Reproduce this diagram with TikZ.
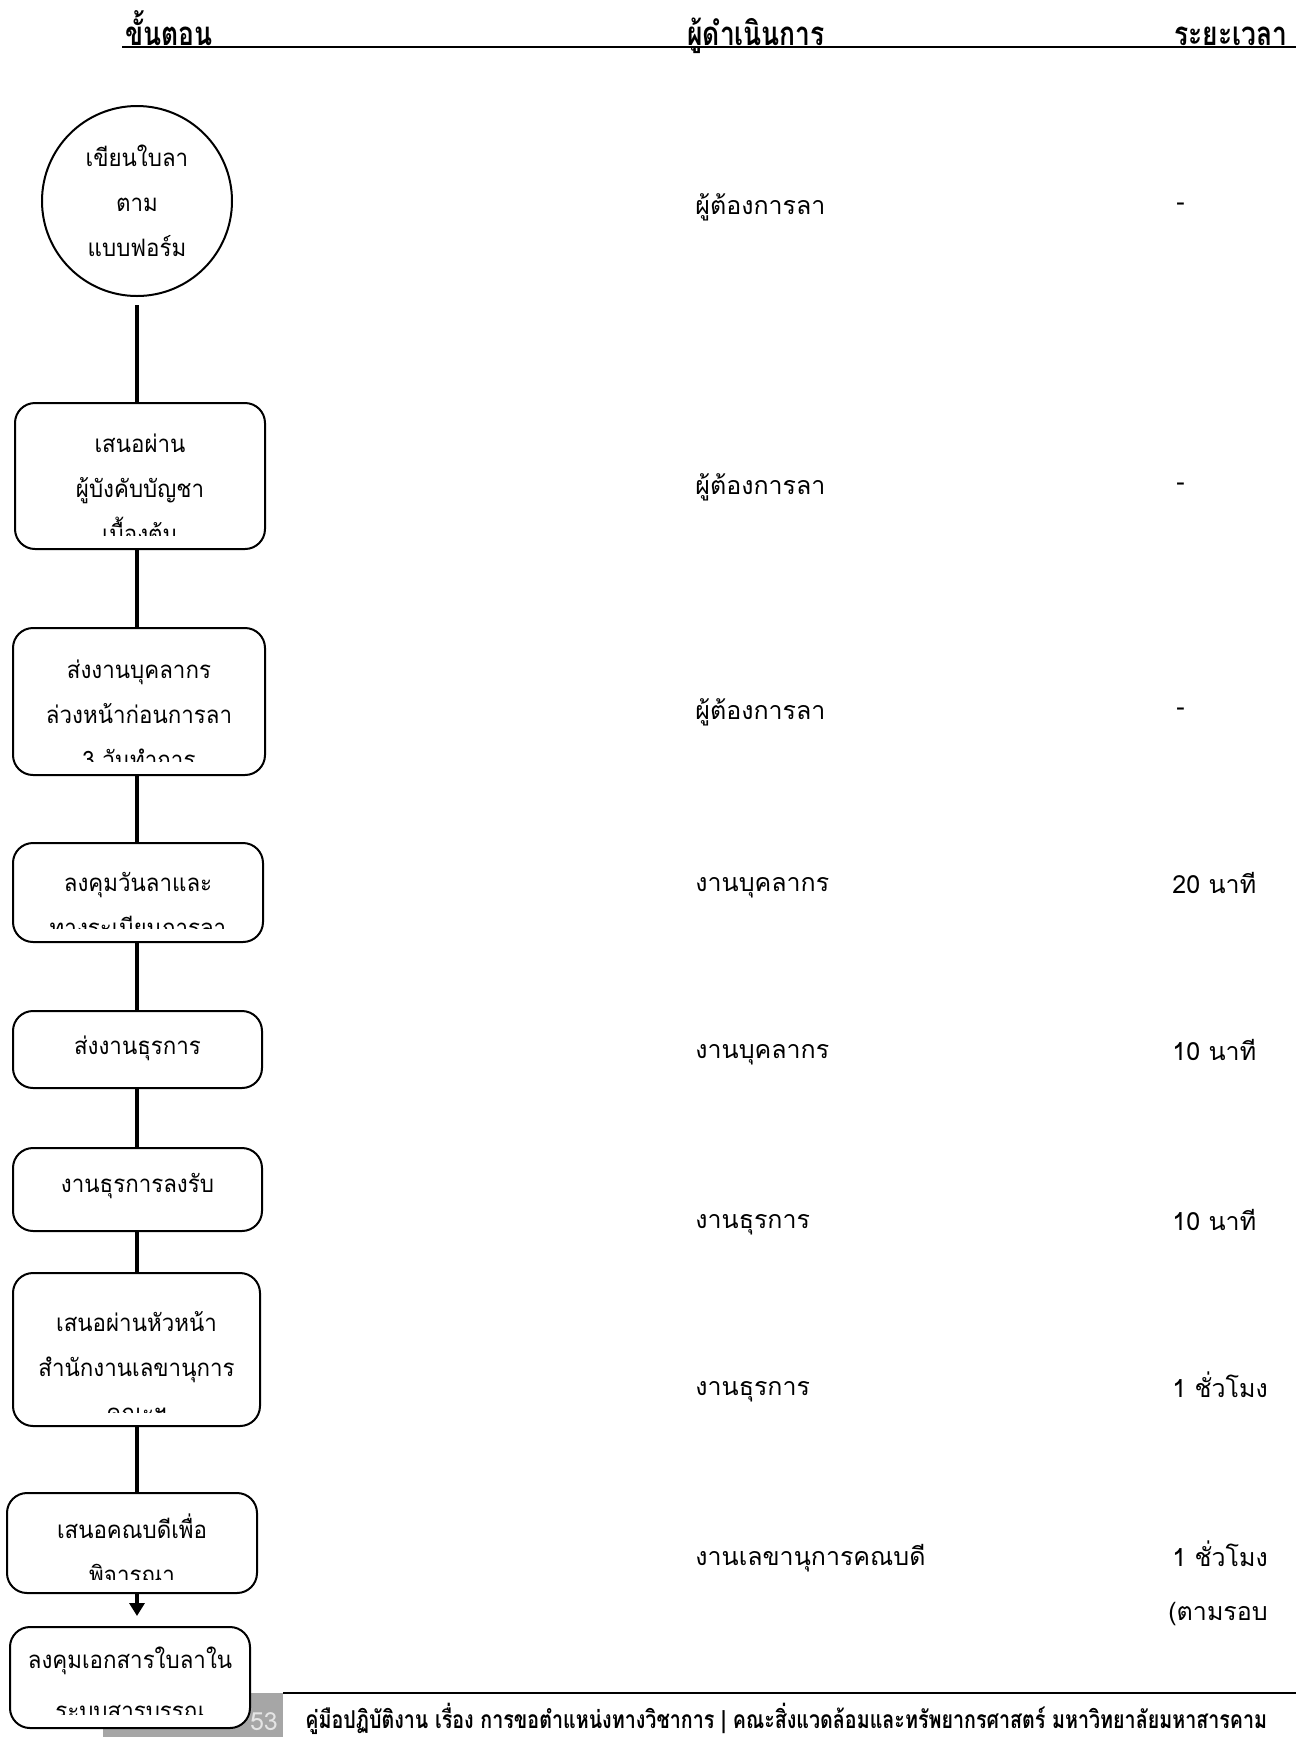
\documentclass[tikz,border=0pt]{standalone}
\usepackage{fontspec}
\newfontfamily\thai[Script=Thai]{Loma}
\newfontfamily\thaibox[Script=Thai,FakeStretch=0.93]{Loma}
\newfontfamily\thaicond[Script=Thai,FakeStretch=0.8]{Loma}
\usetikzlibrary{arrows.meta}
\usetikzlibrary{positioning}

\begin{document}
\begin{tikzpicture}[x=0.5pt, y=-0.5pt,
    every node/.style={font=\thai\fontsize{12.5}{23}\selectfont, inner sep=0pt},
    colhead/.style={font=\thaicond\bfseries\fontsize{16.5}{18}\selectfont, anchor=base west},
    cell/.style={anchor=west},
    boxtext/.style={font=\thaibox\fontsize{12}{22.5}\selectfont},
    stepbox/.style n args={4}{draw, line width=1pt, fill=white, rounded corners=10pt,
      minimum width=#1, minimum height=#2,
      path picture={
        \clip[sharp corners] ([yshift=7pt]path picture bounding box.south west)
          rectangle (path picture bounding box.north east);
        \node[boxtext, draw=none, fill=none, align=center, anchor=north]
          at ([yshift=#3]path picture bounding box.north) {\rule{0pt}{12pt}#4};
      }},
    flow/.style={line width=2.2pt},
  ]
  \useasboundingbox (0,0) rectangle (1296,1737);

  \node[colhead] (h1) at (125,45) {ขั้นตอน};
  \node[colhead] (h2) at (687,45) {ผู้ดำเนินการ};
  \node[colhead] (h3) at (1174,45) {ระยะเวลา};
  \coordinate (hl) at (122,47);
  \coordinate (hr) at (1296,47);
  \draw[line width=1pt] (hl) -- (hr);

  \fill[gray!70] (103,1693) rectangle (283,1737);
  \node[text=white!80!gray] (pg) at (264,1722) {53};
  \coordinate (fl) at (283,1693);
  \coordinate (fr) at (1296,1693);
  \draw[line width=1pt] (fl) -- (fr);
  \node[anchor=west, font=\thaicond\bfseries\fontsize{12.3}{14}\selectfont] (foot) at (305,1719)
    {คู่มือปฏิบัติงาน เรื่อง การขอตำแหน่งทางวิชาการ | คณะสิ่งแวดล้อมและทรัพยากรศาสตร์ มหาวิทยาลัยมหาสารคาม};

  \node[circle, draw, line width=1pt, fill=white, minimum size=95pt, align=center, boxtext] (b1) at (137,201) {เขียนใบลา\\ตาม\\แบบฟอร์ม};
  \node[stepbox={125pt}{73pt}{-4.5pt}{เสนอผ่าน\\ผู้บังคับบัญชา\\เบื้องต้น}] (b2) at (140,476) {};
  \node[stepbox={126pt}{73.5pt}{-4.5pt}{ส่งงานบุคลากร\\ล่วงหน้าก่อนการลา\\3 วันทำการ}] (b3) at (139,701.5) {};
  \node[stepbox={125pt}{49.5pt}{-4.5pt}{ลงคุมวันลาและ\\ทางระเบียนการลา}] (b4) at (138,892.5) {};
  \node[stepbox={124.5pt}{38.5pt}{2.5pt}{ส่งงานธุรการ}] (b5) at (137.5,1049.5) {};
  \node[stepbox={124.5pt}{41.5pt}{3.5pt}{งานธุรการลงรับ}] (b6) at (137.5,1189.5) {};
  \node[stepbox={123.5pt}{76.5pt}{-7pt}{เสนอผ่านหัวหน้า\\สำนักงานเลขานุการ\\คณะฯ}] (b7) at (136.5,1349.5) {};
  \node[stepbox={125pt}{50pt}{-2.6pt}{เสนอคณบดีเพื่อ\\พิจารณา}] (b8) at (132,1543) {};
  \node[stepbox={120pt}{50.5pt}{-2pt}{ลงคุมเอกสารใบลาใน\\[3pt]ระบบสารบรรณ}] (b9) at (130,1677.5) {};

  \draw[flow, shorten <=4pt] (b1.south) -- (b1.south |- b2.north);
  \draw[flow] (b1.south |- b2.south) -- (b1.south |- b3.north);
  \draw[flow] (b1.south |- b3.south) -- (b1.south |- b4.north);
  \draw[flow] (b1.south |- b4.south) -- (b1.south |- b5.north);
  \draw[flow] (b1.south |- b5.south) -- (b1.south |- b6.north);
  \draw[flow] (b1.south |- b6.south) -- (b1.south |- b7.north);
  \draw[flow] (b1.south |- b7.south) -- (b1.south |- b8.north);
  \draw[flow, -{Triangle[width=7.5pt, length=6.5pt]}, shorten >=5pt] (b1.south |- b8.south) -- (b1.south |- b9.north);

  \node[cell] (w1) at (695,207) {ผู้ต้องการลา};
  \node[cell] (w2) at (695,487) {ผู้ต้องการลา};
  \node[cell] (w3) at (695,712) {ผู้ต้องการลา};
  \node[cell] (w4) at (695,888) {งานบุคลากร};
  \node[cell] (w5) at (695,1055) {งานบุคลากร};
  \node[cell] (w6) at (695,1225) {งานธุรการ};
  \node[cell] (w7) at (695,1392) {งานธุรการ};
  \node[cell] (w8) at (695,1558) {งานเลขานุการคณบดี};

  \node[cell] (t1) at (1176,207) {-};
  \node[cell] (t2) at (1176,487) {-};
  \node[cell] (t3) at (1176,712) {-};
  \node[cell] (t4) at (1172,883) {20 นาที};
  \node[cell] (t5) at (1172,1050) {10 นาที};
  \node[cell] (t6) at (1172,1220) {10 นาที};
  \node[cell] (t7) at (1172,1385) {1 ชั่วโมง};
  \node[cell] (t8) at (1172,1554) {1 ชั่วโมง};
  \node[cell] (t9) at (1168,1614) {(ตามรอบ};
\end{tikzpicture}
\end{document}
